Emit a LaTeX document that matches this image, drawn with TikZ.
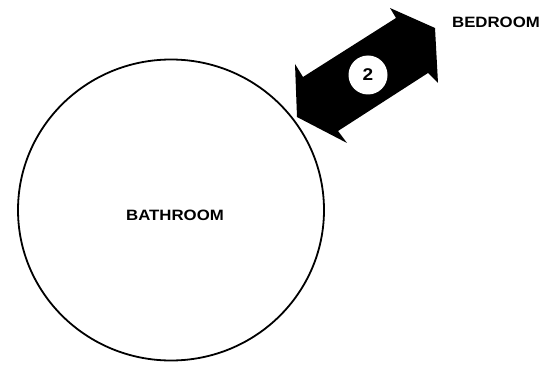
\documentclass[tikz,border=0pt]{standalone}
\usepackage{fontspec}
\newfontfamily\roomfont{Liberation Sans}[FakeStretch=1.12]
\usepackage{tikz}
\usetikzlibrary{positioning}

\begin{document}
\begin{tikzpicture}[
  x=1pt,y=-1pt,
  room/.style={draw=black,line width=1.8pt},
  roomlabel/.style={font=\roomfont\bfseries\fontsize{15}{15}\selectfont,inner sep=0pt},
  passage/.style={fill=black},
  count/.style={circle,fill=white,minimum size=39pt,inner sep=0pt,font=\roomfont\bfseries\fontsize{17}{17}\selectfont}
]
\useasboundingbox (0,0) rectangle (553,366);
% room outline
\draw[room] (171,210) ellipse [x radius=153,y radius=150.5];
\node[roomlabel] (bath) at (175,215) {BATHROOM};
\node[roomlabel] (bed) at (496,22) {BEDROOM};
% double block arrow between the rooms
\coordinate (tipL) at (297,117);
\coordinate (barbLa) at (295,64);
\coordinate (notchLa) at (303,77);
\coordinate (notchRa) at (396,18);
\coordinate (barbRa) at (390,8);
\coordinate (tipR) at (435,28);
\coordinate (barbRb) at (438,83);
\coordinate (notchRb) at (428,73);
\coordinate (notchLb) at (338,131);
\coordinate (barbLb) at (347,143);
\fill[passage] (tipL) -- (barbLa) -- (notchLa) -- (notchRa) -- (barbRa) -- (tipR)
  -- (barbRb) -- (notchRb) -- (notchLb) -- (barbLb) -- cycle;
\node[count] (door) at (368,75) {2};
\end{tikzpicture}
\end{document}
